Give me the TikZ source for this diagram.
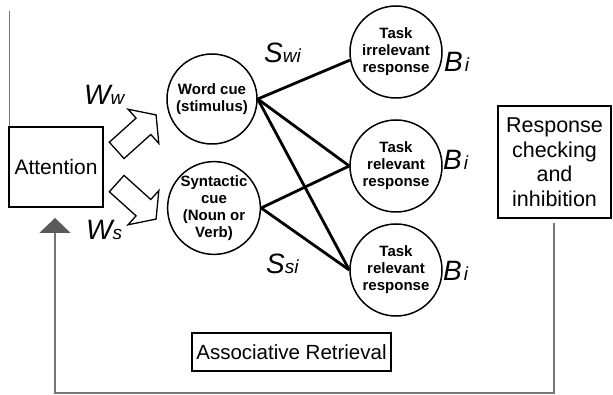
\documentclass[tikz,border=0pt]{standalone}
\usepackage{fontspec}
\setmainfont{Liberation Sans}
\usetikzlibrary{arrows.meta}
\definecolor{fbline}{RGB}{118,118,118}
\definecolor{fbhead}{RGB}{90,90,90}
\begin{document}
\begin{tikzpicture}[x=1pt,y=-1pt,
  box/.style={draw,line width=1.5pt,inner sep=0pt,align=center},
  cue/.style={draw,circle,line width=1.5pt,inner sep=0pt,align=center,font=\fontsize{15}{17}\selectfont\bfseries},
  link/.style={line width=2.8pt},
  hollow/.style={draw,line width=1.3pt,line join=miter,fill=white},
  lab/.style={anchor=base west,inner sep=0pt,font=\fontsize{28}{28}\selectfont\itshape},
  sub/.style={font=\fontsize{19}{19}\selectfont\itshape},
  fb/.style={draw=fbline,line width=2pt}
]
\useasboundingbox (0,0) rectangle (613,395);

% boxes
\node[box,minimum width=94pt,minimum height=80pt,font=\fontsize{21}{24.5}\selectfont] (att) at (56,167) {Attention};
\node[box,minimum width=113pt,minimum height=112pt,font=\fontsize{21.5}{24.5}\selectfont] (resp) at (554.5,162) {Response\\checking\\and\\inhibition};
\node[box,minimum width=199pt,minimum height=38pt,font=\fontsize{20.5}{24}\selectfont] (assoc) at (291.5,352) {Associative Retrieval};

% circles
\node[cue,minimum size=90pt] (wc) at (212,99) {Word cue\\(stimulus)};
\node[cue,minimum size=92pt] (sc) at (214,208) {Syntactic\\cue\\(Noun or\\Verb)};
\node[cue,minimum size=92pt] (t1) at (396,52) {Task\\irrelevant\\response};
\node[cue,minimum size=92pt] (t2) at (396,166) {Task\\relevant\\response};
\node[cue,minimum size=92pt] (t3) at (396,270) {Task\\relevant\\response};

% links
\draw[link] (wc.east) -- (t1.190);
\draw[link] (wc.east) -- (t2.west);
\draw[link] (wc.east) -- (t3.west);
\draw[link] (sc.east) -- (t2.west);
\draw[link] (sc.east) -- (t3.west);

% hollow arrows
\draw[hollow,shift={(136,133)},rotate=42] (-26,-11) -- (10,-11) -- (10,-23) -- (27,0) -- (10,23) -- (10,11) -- (-26,11) -- cycle;
\draw[hollow,shift={(136,201)},rotate=-42] (-26,-11) -- (10,-11) -- (10,-23) -- (27,0) -- (10,23) -- (10,11) -- (-26,11) -- cycle;

% labels
\node[lab] (ww) at (84,105) {W{\fontsize{19}{19}\selectfont w}};
\node[lab] (ws) at (86,240) {W{\fontsize{19}{19}\selectfont s}};
\node[lab] (swi) at (264,63) {S{\fontsize{19}{19}\selectfont wi}};
\node[lab] (ssi) at (266,274) {S{\fontsize{19}{19}\selectfont si}};
\node[lab] (b1) at (444,72) {B\hspace{2pt}{\fontsize{19}{19}\selectfont i}};
\node[lab] (b2) at (443,170) {B\hspace{2pt}{\fontsize{19}{19}\selectfont i}};
\node[lab] (b3) at (443,280) {B\hspace{2pt}{\fontsize{19}{19}\selectfont i}};

% top-left line
\coordinate (topl) at (9.5,11);
\draw[draw=fbline,line width=1.4pt] (topl) -- (topl |- att.north);

% feedback path
\coordinate (fbstart) at (554,223);
\coordinate (fbcorner) at (55,393);
\coordinate (fbend) at (55,218);
\draw[fb,-{Triangle[width=31pt,length=15pt,color=fbhead]}] (fbstart) |- (fbcorner) -- (fbend);
\end{tikzpicture}
\end{document}
